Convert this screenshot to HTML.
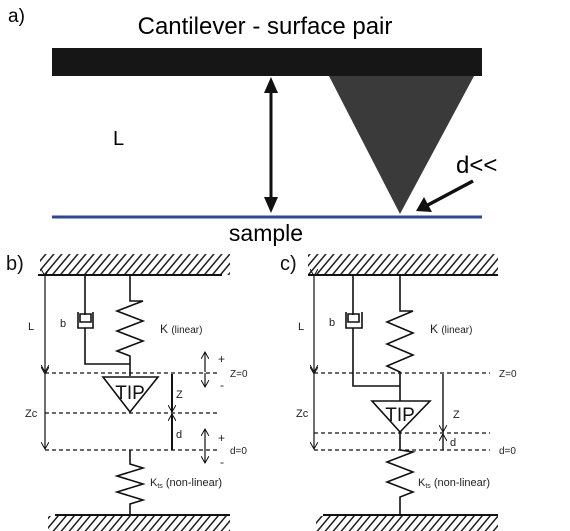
<!DOCTYPE html>
<html><head><meta charset="utf-8"><style>
html,body{margin:0;padding:0;background:#fff;}
svg{display:block;font-family:"Liberation Sans",sans-serif;}
</style></head><body>
<svg width="570" height="531" viewBox="0 0 570 531">
<defs>
<pattern id="hatch" width="8" height="22" patternUnits="userSpaceOnUse" patternTransform="skewX(-40)">
<line x1="3" y1="0" x2="3" y2="22" stroke="#222" stroke-width="2"/>
</pattern>
<marker id="ah" markerWidth="8" markerHeight="8" refX="7" refY="4" orient="auto" markerUnits="userSpaceOnUse">
<path d="M0,0 L7,4 L0,8" fill="none" stroke="#111" stroke-width="1"/></marker>
</defs>
<g>
<text x="8" y="22" font-size="19">a)</text>
<text x="265" y="34" font-size="24" text-anchor="middle">Cantilever - surface pair</text>
<rect x="52" y="48" width="430" height="28" fill="#161616"/>
<polygon points="329,76 474,76 400,214" fill="#3a3a3a"/>
<line x1="52" y1="217" x2="482" y2="217" stroke="#2b4a8f" stroke-width="3"/>
<line x1="271" y1="92" x2="271" y2="198" stroke="#111" stroke-width="3"/>
<polygon points="271,77 264,93 278,93" fill="#111"/>
<polygon points="271,213 264,197 278,197" fill="#111"/>
<text x="113" y="145" font-size="20">L</text>
<text x="456" y="173" font-size="24">d&lt;&lt;</text>
<line x1="473" y1="181" x2="426" y2="206" stroke="#111" stroke-width="3.5"/>
<polygon points="416,211 424,197 432,212" fill="#111"/>
<text x="266" y="241" font-size="23" text-anchor="middle">sample</text>
</g>
<g stroke="#111" fill="none" stroke-width="1.6">
<text x="6" y="270" font-size="20" fill="#111" stroke="none">b)</text>
<rect x="40" y="254" width="190" height="21" fill="url(#hatch)" stroke="none"/>
<line x1="38" y1="275" x2="222" y2="275" stroke-width="2"/>
<line x1="45" y1="276" x2="45" y2="372" marker-start="url(#ah)" marker-end="url(#ah)" stroke-width="1.2"/>
<line x1="45" y1="374" x2="45" y2="449" marker-start="url(#ah)" marker-end="url(#ah)" stroke-width="1.2"/>
<g stroke-dasharray="4,3" stroke-width="1.3">
<line x1="45" y1="373" x2="220" y2="373"/><line x1="45" y1="413" x2="220" y2="413"/><line x1="45" y1="450" x2="220" y2="450"/>
</g>
<path d="M85,275 V315 M78,312 V328 H93 V312 M80,314 h11 v8 h-11 z M85,328 V364 H130"/>
<path d="M130,275 V301 L143,301 L117,311 L143,321 L117,331 L143,341 L117,351 L130,356 V376"/>
<polygon points="103,377 158,377 130,412" fill="#fff"/>
<text x="130" y="399" font-size="19" fill="#111" stroke="none" text-anchor="middle">TIP</text>
<line x1="172" y1="374" x2="172" y2="412" marker-end="url(#ah)" stroke-width="2"/>
<line x1="172" y1="450" x2="172" y2="414" marker-end="url(#ah)" stroke-width="2"/>
<line x1="205" y1="372" x2="205" y2="352" marker-end="url(#ah)" stroke-width="1.2"/>
<line x1="205" y1="373" x2="205" y2="387" marker-end="url(#ah)" stroke-width="1.2"/>
<line x1="205" y1="450" x2="205" y2="429" marker-end="url(#ah)" stroke-width="1.2"/>
<line x1="205" y1="450" x2="205" y2="463" marker-end="url(#ah)" stroke-width="1.2"/>
<path d="M130,450 V464 L143,468 L117,476 L143,484 L117,492 L143,500 L130,504 V515"/>
<line x1="55" y1="515" x2="230" y2="515" stroke-width="2"/>
<rect x="48" y="516" width="182" height="15" fill="url(#hatch)" stroke="none"/>
<g fill="#222" stroke="none" font-size="11">
<text x="28" y="330">L</text><text x="25" y="417">Zc</text><text x="60" y="327">b</text>
<text x="160" y="333" font-size="12">K <tspan font-size="10">(linear)</tspan></text>
<text x="218" y="363" font-size="12">+</text><text x="220" y="389" font-size="12">-</text>
<text x="230" y="377" font-size="10">Z=0</text><text x="230" y="454" font-size="10">d=0</text>
<text x="176" y="398">Z</text><text x="176" y="438">d</text>
<text x="218" y="442" font-size="12">+</text><text x="220" y="466" font-size="12">-</text>
<text x="150" y="486">K<tspan font-size="7" dy="2">ts</tspan><tspan dy="-2"> (non-linear)</tspan></text>
</g>
</g>
<g stroke="#111" fill="none" stroke-width="1.6">
<text x="280" y="270" font-size="20" fill="#111" stroke="none">c)</text>
<rect x="308" y="254" width="190" height="21" fill="url(#hatch)" stroke="none"/>
<line x1="308" y1="275" x2="498" y2="275" stroke-width="2"/>
<line x1="314" y1="276" x2="314" y2="372" marker-start="url(#ah)" marker-end="url(#ah)" stroke-width="1.2"/>
<line x1="314" y1="374" x2="314" y2="449" marker-start="url(#ah)" marker-end="url(#ah)" stroke-width="1.2"/>
<g stroke-dasharray="4,3" stroke-width="1.3">
<line x1="314" y1="373" x2="490" y2="373"/><line x1="314" y1="433" x2="490" y2="433"/><line x1="314" y1="450" x2="490" y2="450"/>
</g>
<path d="M353,275 V315 M346,312 V328 H362 V312 M348,314 h11 v8 h-11 z M353,328 V386 H400"/>
<path d="M400,275 V311 L413,311 L387,322 L413,333 L387,344 L413,355 L387,366 L400,372 V401"/>
<polygon points="372,401 430,401 400,432" fill="#fff"/>
<text x="400" y="421" font-size="19" fill="#111" stroke="none" text-anchor="middle">TIP</text>
<line x1="443" y1="374" x2="443" y2="432" marker-end="url(#ah)" stroke-width="1.4"/>
<line x1="443" y1="450" x2="443" y2="434" marker-end="url(#ah)" stroke-width="1.4"/>
<path d="M400,432 V450 L413,452 L387,462 L413,472 L387,482 L413,492 L400,497 V515"/>
<line x1="323" y1="515" x2="498" y2="515" stroke-width="2"/>
<rect x="316" y="516" width="182" height="15" fill="url(#hatch)" stroke="none"/>
<g fill="#222" stroke="none" font-size="11">
<text x="298" y="330">L</text><text x="296" y="417">Zc</text><text x="329" y="326">b</text>
<text x="430" y="333" font-size="12">K <tspan font-size="10">(linear)</tspan></text>
<text x="499" y="377" font-size="10">Z=0</text><text x="499" y="454" font-size="10">d=0</text>
<text x="453" y="418">Z</text><text x="450" y="446">d</text>
<text x="418" y="486">K<tspan font-size="7" dy="2">ts</tspan><tspan dy="-2"> (non-linear)</tspan></text>
</g>
</g>
</svg>
</body></html>
